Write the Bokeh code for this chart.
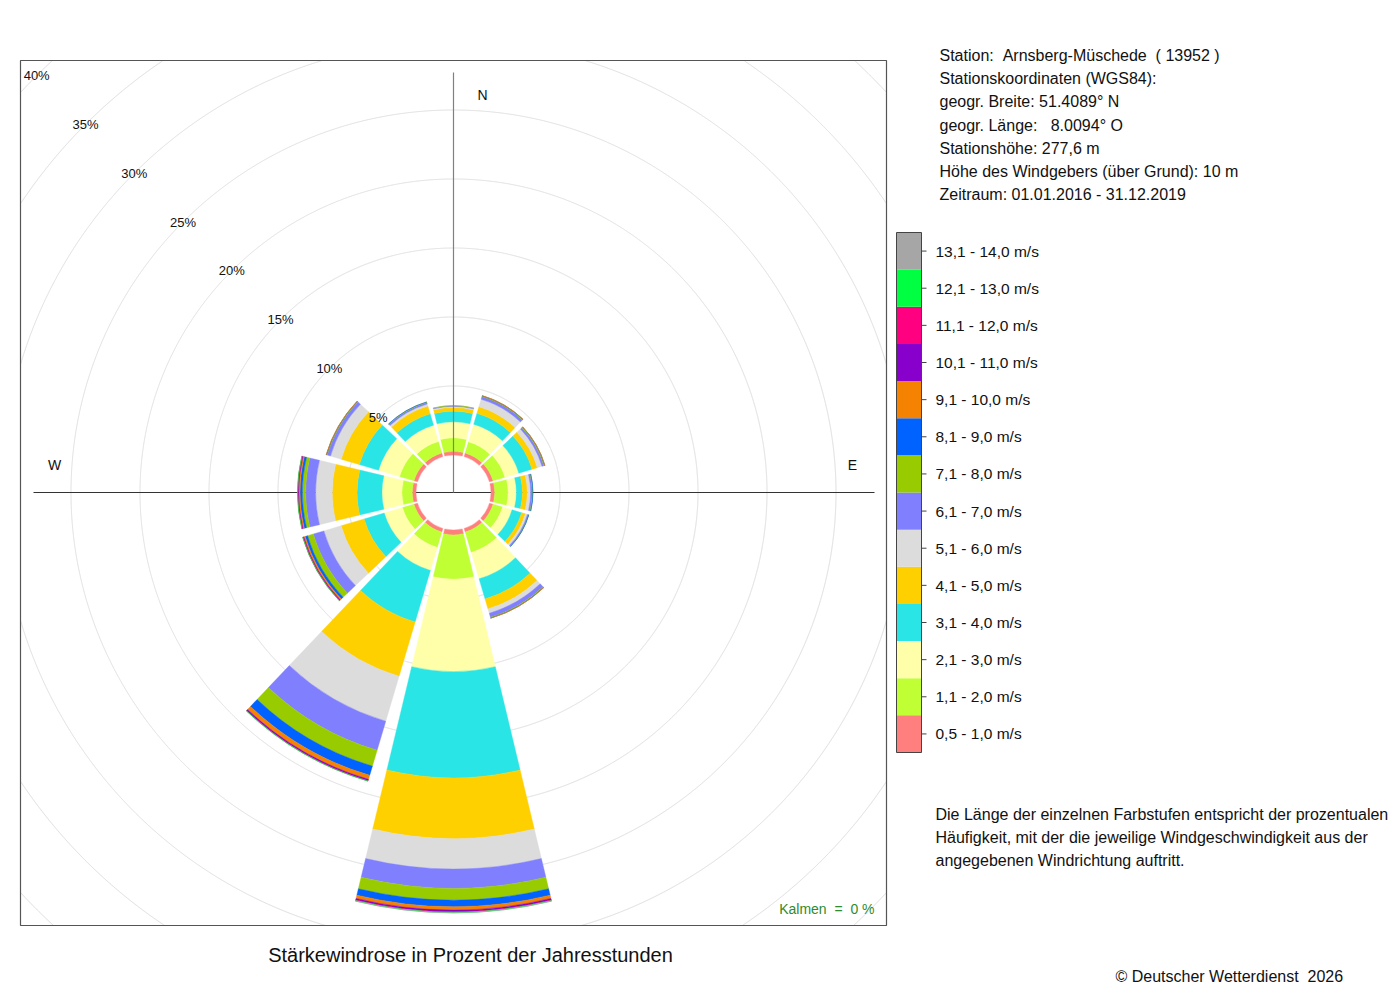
import numpy as np
from bokeh.plotting import figure
from bokeh.models import Range1d, ColumnDataSource
from bokeh.core.properties import value
from bokeh.embed import file_html
from bokeh.resources import INLINE

NB = "\u00a0"

# ---------------- data ----------------
directions = [0, 30, 60, 90, 120, 150, 180, 210, 240, 270, 300, 330]
speed_labels = ["0,5 - 1,0 m/s", "1,1 - 2,0 m/s", "2,1 - 3,0 m/s", "3,1 - 4,0 m/s",
                "4,1 - 5,0 m/s", "5,1 - 6,0 m/s", "6,1 - 7,0 m/s", "7,1 - 8,0 m/s",
                "8,1 - 9,0 m/s", "9,1 - 10,0 m/s", "10,1 - 11,0 m/s", "11,1 - 12,0 m/s",
                "12,1 - 13,0 m/s", "13,1 - 14,0 m/s"]
speed_colors = ["#FF7F7F", "#BFFF33", "#FFFFAA", "#2AE5E5", "#FFD000", "#DCDCDC",
                "#8080FF", "#99CC00", "#0062FF", "#F58200", "#8800CC", "#FF0080",
                "#00FF40", "#A6A6A6"]

# percent of hours per speed class (0,5-1 ... 13,1-14 m/s) for each direction sector
N_000   = [0.27, 0.97, 1.16, 0.77, 0.27, 0.08, 0.05, 0.01, 0.00, 0.00, 0.00, 0.00, 0.00, 0.00]
NNE_030 = [0.27, 0.84, 1.33, 0.83, 0.50, 0.56, 0.20, 0.05, 0.02, 0.01, 0.00, 0.00, 0.00, 0.00]
ENE_060 = [0.27, 0.90, 1.05, 1.00, 0.40, 0.35, 0.15, 0.05, 0.02, 0.01, 0.00, 0.00, 0.00, 0.00]
E_090   = [0.27, 0.97, 0.60, 0.43, 0.36, 0.24, 0.12, 0.04, 0.01, 0.00, 0.00, 0.00, 0.00, 0.00]
ESE_120 = [0.27, 0.72, 0.72, 0.72, 0.29, 0.15, 0.08, 0.02, 0.01, 0.00, 0.00, 0.00, 0.00, 0.00]
SSE_150 = [0.27, 1.54, 2.00, 1.53, 0.74, 0.33, 0.30, 0.05, 0.02, 0.01, 0.00, 0.00, 0.00, 0.00]
S_180   = [0.36, 3.20, 6.70, 7.70, 4.40, 2.20, 1.40, 0.85, 0.48, 0.24, 0.12, 0.04, 0.04, 0.01]
SSW_210 = [0.27, 1.16, 1.74, 3.90, 4.10, 3.40, 2.20, 1.19, 0.70, 0.30, 0.10, 0.03, 0.01, 0.00]
WSW_240 = [0.27, 0.87, 1.38, 1.52, 1.74, 1.30, 0.80, 0.43, 0.18, 0.11, 0.05, 0.03, 0.01, 0.00]
W_270   = [0.27, 0.75, 1.45, 1.80, 1.80, 1.20, 0.72, 0.24, 0.17, 0.10, 0.05, 0.03, 0.01, 0.00]
WNW_300 = [0.27, 1.09, 1.59, 1.45, 1.38, 0.80, 0.25, 0.05, 0.02, 0.01, 0.00, 0.00, 0.00, 0.00]
NNW_330 = [0.27, 0.87, 1.23, 0.87, 0.58, 0.15, 0.12, 0.03, 0.01, 0.00, 0.00, 0.00, 0.00, 0.00]

ring_pcts = [5, 10, 15, 20, 25, 30, 35, 40]
ring_labels = ["5%", "10%", "15%", "20%", "25%", "30%", "35%", "40%"]
calm_text = "Kalmen" + NB * 2 + "=" + NB * 2 + "0 %"

info_lines = ["Station:" + NB * 2 + "Arnsberg-Müschede" + NB * 2 + "( 13952 )",
              "Stationskoordinaten (WGS84):",
              "geogr. Breite: 51.4089° N",
              "geogr. Länge:" + NB * 3 + "8.0094° O",
              "Stationshöhe: 277,6 m",
              "Höhe des Windgebers (über Grund): 10 m",
              "Zeitraum: 01.01.2016 - 31.12.2019"]
note_lines = ["Die Länge der einzelnen Farbstufen entspricht der prozentualen",
              "Häufigkeit, mit der die jeweilige Windgeschwindigkeit aus der",
              "angegebenen Windrichtung auftritt."]
title_text = "Stärkewindrose in Prozent der Jahresstunden"
copyright_text = "© Deutscher Wetterdienst" + NB * 2 + "2026"

sector_values = [N_000, NNE_030, ENE_060, E_090, ESE_120, SSE_150,
                 S_180, SSW_210, WSW_240, W_270, WNW_300, NNW_330]

# ---------------- geometry (page pixels -> data units) ----------------
S = 13.8             # pixels per percent
CX, CY = 453, 492    # page pixel position of rose centre
HOLE = 37.5 / S      # radius of central hole in percent units
HALF = 13.5          # half sector width in degrees
FONT = value("Liberation Sans")


def X(px):
    return (px - CX) / S


def Y(py):
    return (CY - py) / S


W_FIG, H_FIG = 1392, 992
p = figure(width=W_FIG, height=H_FIG,
           x_range=Range1d(X(0), X(W_FIG)), y_range=Range1d(Y(H_FIG), Y(0)),
           output_backend="svg", toolbar_location=None, min_border=0,
           x_axis_location=None, y_axis_location=None)
p.xgrid.visible = False
p.ygrid.visible = False
p.outline_line_color = None
p.background_fill_color = "white"
p.border_fill_color = "white"

# frame of the rose panel
fx0, fx1, fy0, fy1 = X(20), X(886), Y(925), Y(60)

# ring grid lines clipped to the panel
t = np.linspace(0, 2 * np.pi, 3601)
rxs, rys = [], []
for pct in ring_pcts:
    R = HOLE + pct
    xs = R * np.cos(t)
    ys = R * np.sin(t)
    inside = (xs >= fx0) & (xs <= fx1) & (ys >= fy0) & (ys <= fy1)
    idx = np.where(inside)[0]
    if len(idx) == 0:
        continue
    runs = np.split(idx, np.where(np.diff(idx) != 1)[0] + 1)
    if len(runs) > 1 and runs[0][0] == 0 and runs[-1][-1] == len(t) - 1:
        runs[0] = np.concatenate([runs[-1], runs[0]])
        runs.pop()
    for r in runs:
        rxs.append(list(xs[r]))
        rys.append(list(ys[r]))
p.multi_line(rxs, rys, line_color="#DDDDDD", line_width=1)

# horizontal axis line (under the sectors)
p.segment(x0=[X(33)], y0=[0], x1=[X(874)], y1=[0], line_color="#333333", line_width=1)

# sectors
rows = dict(inner=[], outer=[], start=[], end=[], color=[])
for d, vals in zip(directions, sector_values):
    cum = HOLE
    a0 = np.radians(90 - d - HALF)
    a1 = np.radians(90 - d + HALF)
    for k, v in enumerate(vals):
        if v <= 0:
            continue
        rows["inner"].append(cum)
        rows["outer"].append(cum + v)
        rows["start"].append(a0)
        rows["end"].append(a1)
        rows["color"].append(speed_colors[k])
        cum += v
rows["x"] = [0] * len(rows["inner"])
rows["y"] = [0] * len(rows["inner"])
src = ColumnDataSource(rows)
p.annular_wedge(x="x", y="y", inner_radius="inner", outer_radius="outer",
                start_angle="start", end_angle="end", fill_color="color",
                line_color="color", line_width=0.4, source=src)

# vertical axis line (top half, over the sectors)
p.segment(x0=[0], y0=[Y(72)], x1=[0], y1=[0], line_color="#808080", line_width=1.2)

# panel frame
p.quad(left=[fx0], right=[fx1], bottom=[fy0], top=[fy1], fill_color=None,
       line_color="#555555", line_width=1.2)

# ring labels along the NW diagonal
lab_r = [HOLE + v for v in ring_pcts]
p.text(x=[-r * np.cos(np.pi / 4) for r in lab_r], y=[r * np.sin(np.pi / 4) for r in lab_r],
       text=ring_labels, text_font=FONT, text_font_size="13px",
       text_align="center", text_baseline="middle", text_color="#111111")

# compass labels
p.text(x=[X(482), X(852), X(54)], y=[Y(94), Y(464), Y(464)], text=["N", "E", "W"],
       text_font=FONT, text_font_size="14px", text_align="center",
       text_baseline="middle", text_color="#111111")

# calms
p.text(x=[X(874)], y=[Y(908)], text=[calm_text], text_font=FONT, text_font_size="14px",
       text_align="right", text_baseline="middle", text_color="#2E8B2E")

# info block
info_y = [55, 78, 101, 125, 148, 171, 194]
p.text(x=[X(939)] * len(info_lines), y=[Y(v) for v in info_y], text=info_lines,
       text_font=FONT, text_font_size="16px", text_align="left",
       text_baseline="middle", text_color="#111111")

# legend colour bar
top, bot = 232, 752
h = (bot - top) / len(speed_labels)
n = len(speed_labels)
lg_top = [Y(top + (n - 1 - k) * h) for k in range(n)]
lg_bot = [Y(top + (n - k) * h) for k in range(n)]
lg_mid = [Y(top + (n - 0.5 - k) * h) for k in range(n)]
p.quad(left=[X(896)] * n, right=[X(921)] * n, top=lg_top, bottom=lg_bot,
       fill_color=speed_colors, line_color=None)
p.quad(left=[X(896)], right=[X(921)], top=[Y(top)], bottom=[Y(bot)], fill_color=None,
       line_color="#444444", line_width=1)
p.segment(x0=[X(921)] * n, y0=lg_mid, x1=[X(926)] * n, y1=lg_mid,
          line_color="#444444", line_width=1)
p.text(x=[X(935)] * n, y=lg_mid, text=speed_labels, text_font=FONT,
       text_font_size="15.5px", text_align="left", text_baseline="middle",
       text_color="#111111")

# explanatory note
note_y = [814, 837, 860]
p.text(x=[X(935)] * 3, y=[Y(v) for v in note_y], text=note_lines, text_font=FONT,
       text_font_size="16px", text_align="left", text_baseline="middle",
       text_color="#111111")

# title and copyright
p.text(x=[X(470)], y=[Y(954)], text=[title_text], text_font=FONT, text_font_size="20px",
       text_align="center", text_baseline="middle", text_color="#111111")
p.text(x=[X(1115)], y=[Y(976)], text=[copyright_text], text_font=FONT,
       text_font_size="16px", text_align="left", text_baseline="middle",
       text_color="#111111")

open("out.html", "w").write(file_html(p, INLINE))
